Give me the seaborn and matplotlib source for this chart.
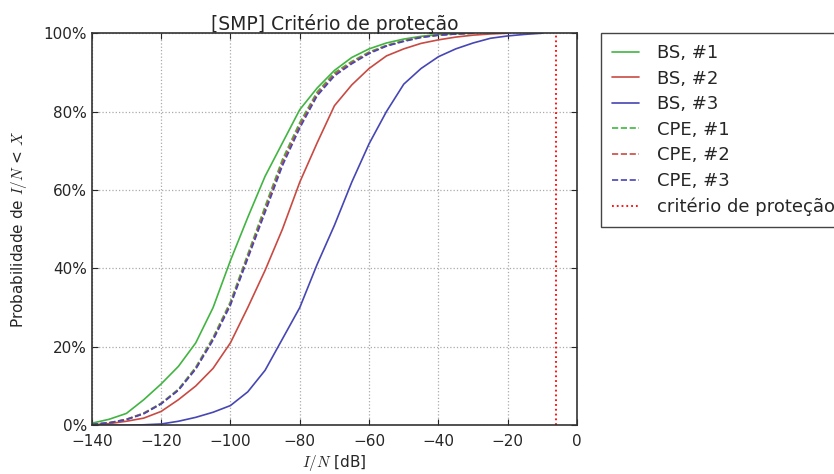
import matplotlib
matplotlib.use("Agg")
import matplotlib.pyplot as plt
import seaborn as sns
import pandas as pd
from matplotlib.ticker import PercentFormatter

# I/N values in dB, cumulative probability in %
bs1_db = [-140, -135, -130, -125, -120, -115, -110, -105, -100, -95, -90, -85, -80, -75,
          -70, -65, -60, -55, -50, -45, -40, -35, -30]
bs1_p = [0.5, 1.5, 3.0, 6.5, 10.5, 15.0, 21.0, 30.0, 42.0, 53.0, 63.5, 72.0, 80.5, 86.0,
         90.5, 93.8, 96.0, 97.5, 98.5, 99.2, 99.7, 99.9, 100.0]

bs2_db = [-140, -135, -130, -125, -120, -115, -110, -105, -100, -95, -90, -85, -80, -75,
          -70, -65, -60, -55, -50, -45, -40, -35, -30, -25, -20]
bs2_p = [0.1, 0.4, 1.0, 1.8, 3.5, 6.5, 10.0, 14.5, 21.0, 30.0, 39.5, 50.0, 62.0, 72.0,
         81.5, 86.8, 91.0, 94.2, 96.0, 97.4, 98.3, 99.0, 99.5, 99.8, 100.0]

bs3_db = [-140, -130, -125, -120, -115, -110, -105, -100, -95, -90, -85, -80, -75, -70,
          -65, -60, -55, -50, -45, -40, -35, -30, -25, -20, -15, -10]
bs3_p = [0.0, 0.0, 0.1, 0.3, 1.0, 2.0, 3.3, 5.0, 8.5, 14.0, 22.0, 30.0, 41.0, 51.0,
         62.0, 71.8, 80.0, 87.0, 91.0, 94.0, 96.0, 97.5, 98.7, 99.3, 99.7, 100.0]

cpe_db = [-140, -135, -130, -125, -120, -115, -110, -105, -100, -95, -90, -85, -80, -75,
          -70, -65, -60, -55, -50, -45, -40, -35, -30]
cpe1_p = [0.2, 0.6, 1.5, 3.1, 5.6, 9.2, 14.8, 22.4, 31.5, 43.6, 55.8, 67.8, 77.2, 85.0,
          89.9, 92.8, 95.2, 96.9, 98.1, 99.0, 99.5, 99.8, 100.0]
cpe2_p = [0.2, 0.6, 1.5, 3.0, 5.5, 9.0, 14.5, 22.0, 31.0, 43.0, 55.0, 67.0, 76.5, 84.5,
          89.5, 92.5, 95.0, 96.8, 98.0, 99.0, 99.5, 99.8, 100.0]
cpe3_p = [0.2, 0.6, 1.4, 2.9, 5.4, 8.9, 14.3, 21.7, 30.6, 42.5, 54.3, 66.2, 75.8, 84.0,
          89.1, 92.2, 94.8, 96.7, 97.9, 98.9, 99.5, 99.8, 100.0]

protection_db = -6

series = [
    ("BS, #1", bs1_db, bs1_p, "#42b442", "-"),
    ("BS, #2", bs2_db, bs2_p, "#c84a42", "-"),
    ("BS, #3", bs3_db, bs3_p, "#4646b4", "-"),
    ("CPE, #1", cpe_db, cpe1_p, "#42b442", "--"),
    ("CPE, #2", cpe_db, cpe2_p, "#c84a42", "--"),
    ("CPE, #3", cpe_db, cpe3_p, "#4646b4", "--"),
]

sns.set_style("ticks")
plt.rcParams["font.family"] = ["DejaVu Sans"]
plt.rcParams["mathtext.fontset"] = "cm"

fig = plt.figure(figsize=(8.34, 4.74), dpi=100)
ax = fig.add_axes([0.110, 0.103, 0.582, 0.827])

for label, xs, ys, color, ls in series:
    df = pd.DataFrame({"x": xs, "y": ys})
    sns.lineplot(data=df, x="x", y="y", color=color, linestyle=ls, linewidth=1.2,
                 label=label, ax=ax)

ax.axvline(protection_db, color="red", linestyle=":", linewidth=1.3,
           label="critério de proteção")

ax.set_xlim(-140, 0)
ax.set_ylim(0, 100)
ax.set_xticks(range(-140, 1, 20))
ax.set_yticks(range(0, 101, 20))
ax.yaxis.set_major_formatter(PercentFormatter(100, decimals=0))
ax.grid(True, color="#aaaaaa", linestyle=":", linewidth=0.9)
ax.tick_params(direction="in", top=True, right=True, labelsize=11, length=4)
ax.tick_params(axis="x", pad=6)
for s in ax.spines.values():
    s.set_color("#333333")
    s.set_linewidth(1.2)

ax.set_title("[SMP] Critério de proteção", fontsize=13.5, pad=2)
ax.set_xlabel("$I/N$ [dB]", fontsize=11, labelpad=3)
ax.set_ylabel("Probabilidade de $I/N$ < $X$", fontsize=11, labelpad=10)

ax.legend(loc="upper left", bbox_to_anchor=(1.05, 1.0), fontsize=13,
          frameon=True, fancybox=False, edgecolor="#444444", framealpha=1,
          handlelength=1.5, handletextpad=1.0, labelspacing=0.42,
          borderpad=0.6, borderaxespad=0)

fig.savefig("out.png", dpi=100)
